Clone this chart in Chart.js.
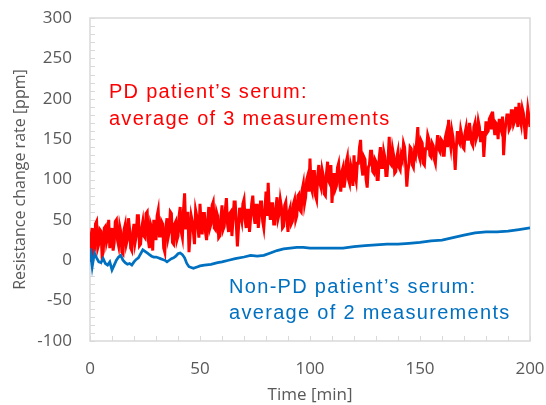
<!DOCTYPE html>
<html>
<head>
<title>Resistance change rate</title>
<script src="https://cdn.jsdelivr.net/npm/chart.js"></script>
<style>
  html, body { margin: 0; padding: 0; background: #fff; }
  #wrap { width: 546px; height: 405px; }
</style>
</head>
<body>
<div id="wrap"><canvas id="myChart" width="546" height="405"></canvas></div>
<script>
// PD patient's serum, one reading every half minute, 0..200 min
var redValues = [
  -2, 30, 40, 8, 12, 45, 48, 15, 20, 38, 36, 5, 10, 40, 42, 22, 28, 50, 15, 30,
  40, 12, 22, 48, 50, 25, 18, 42, 35, 10, 8, 38, 44, 20, 26, 52, 38, 15, 12, 35,
  45, 22, 30, 55, 55, 18, 20, 40, 48, 30, 28, 58, 60, 25, 15, 45, 40, 12, 50, 35,
  25, 55, 62, 30, 30, 48, 45, 15, 10, 42, 52, 28, 35, 60, 58, 22, 20, 45, 48, 25,
  30, 55, 66, 35, 28, 62, 83, 40, 40, 60, 10, 32, 55, 48, 35, 20, 62, 55, 42, 28,
  70, 45, 32, 58, 58, 35, 25, 50, 66, 40, 45, 68, 72, 40, 38, 60, 55, 28, 30, 52,
  68, 38, 42, 62, 77, 45, 35, 58, 60, 30, 50, 72, 72, 45, 17, 40, 65, 55, 48, 70,
  75, 50, 40, 62, 62, 35, 52, 70, 80, 55, 45, 68, 68, 40, 55, 72, 72, 48, 40, 60,
  85, 55, 96, 62, 50, 70, 70, 45, 45, 65, 78, 52, 58, 75, 66, 40, 42, 68, 72, 50,
  35, 60, 65, 45, 48, 70, 75, 50, 55, 80, 82, 62, 60, 88, 95, 70, 78, 100, 105, 85,
  126, 90, 85, 110, 110, 80, 75, 105, 118, 95, 90, 112, 105, 82, 80, 108, 122, 98, 95, 118,
  71, 95, 108, 88, 92, 115, 120, 95, 85, 110, 115, 90, 100, 122, 128, 100, 95, 118, 112, 92,
  130, 105, 98, 120, 120, 140, 149, 115, 105, 128, 125, 100, 90, 115, 118, 135, 135, 110, 108, 125,
  122, 100, 100, 128, 140, 115, 115, 135, 128, 105, 105, 125, 153, 120, 118, 138, 130, 108, 110, 128,
  135, 115, 112, 130, 125, 145, 140, 118, 91, 110, 120, 140, 138, 118, 115, 135, 130, 148, 165, 130,
  125, 148, 145, 120, 118, 138, 138, 155, 150, 130, 128, 145, 142, 125, 120, 140, 155, 138, 135, 150,
  148, 130, 130, 152, 158, 140, 174, 150, 140, 160, 152, 135, 112, 140, 160, 148, 145, 162, 155, 140,
  138, 158, 165, 150, 150, 170, 158, 145, 142, 165, 170, 150, 155, 172, 165, 148, 148, 160, 128, 150,
  172, 158, 160, 175, 178, 162, 184, 168, 155, 170, 168, 150, 175, 165, 160, 178, 130, 155, 170, 180,
  180, 162, 165, 185, 185, 168, 172, 190, 178, 165, 195, 175, 168, 188, 182, 165, 150, 172, 188, 178,
  165
];
var redTimes = redValues.map(function (v, i) { return i * 0.5; });

// Non-PD patient's serum
var blueTimes = [0, 1, 2, 3, 4, 5, 6, 7, 8, 9, 10, 11, 12, 13, 14, 15, 16, 17, 18, 19,
  20, 21, 22, 23, 24, 25, 26, 27, 28, 29, 30, 31, 32, 33, 34, 35, 36, 37, 38, 39,
  40, 41, 42, 43, 44, 45, 46, 47, 48, 49, 50, 52, 55, 58, 60, 63, 66, 70, 73, 76,
  79, 82, 85, 88, 91, 94, 97, 100, 105, 110, 115, 120, 125, 130, 135, 140, 145, 150,
  155, 160, 165, 170, 175, 180, 185, 190, 195, 200];
var blueValues = [15, -8, 9, 3, -2, -3, 2, -4, -6, -2, -12, -6, 0, 4, 6, 0, -3, -5, -4, -6,
  -2, 1, 3, 8, 13, 11, 9, 7, 5, 4, 4, 3, 2, 1, 0, -2, 0, 2, 3, 5,
  8, 9, 7, 3, -4, -8, -9, -10, -9, -8, -7, -6, -5, -3, -2, 0, 2, 4, 6, 5,
  6, 9, 12, 14, 15, 16, 16, 15, 15, 15, 15, 17, 18, 19, 20, 20, 21, 22,
  24, 25, 28, 31, 34, 35, 35, 36, 38, 40];

var xTicks = [0, 50, 100, 150, 200];
var yTicks = [-100, -50, 0, 50, 100, 150, 200, 250, 300];

var labelColor = '#595959';
var frameColor = '#d9d9d9';

function pts(xs, ys) {
  return xs.map(function (x, i) { return { x: x, y: ys[i] }; });
}

// box, inside minor ticks and the two text notes
var decor = {
  id: 'decor',
  beforeDatasetsDraw: function (chart) {
    var ctx = chart.ctx, a = chart.chartArea;
    var xs = chart.scales.x, ys = chart.scales.y;
    ctx.save();
    ctx.strokeStyle = frameColor;
    ctx.lineWidth = 1;
    ctx.beginPath();
    for (var v = -100; v <= 300; v += 10) {
      var py = Math.round(ys.getPixelForValue(v)) + 0.5;
      ctx.moveTo(a.left, py); ctx.lineTo(a.left + 5, py);
    }
    for (var t = 0; t <= 200; t += 10) {
      var px = Math.round(xs.getPixelForValue(t)) + 0.5;
      ctx.moveTo(px, a.bottom); ctx.lineTo(px, a.bottom - 5);
    }
    ctx.stroke();
    ctx.lineWidth = 1.5;
    ctx.strokeRect(a.left, a.top, a.right - a.left, a.bottom - a.top);
    ctx.restore();
  },
  afterDraw: function (chart) {
    var ctx = chart.ctx;
    var xs = chart.scales.x, ys = chart.scales.y;
    ctx.save();
    ctx.font = '20px "Liberation Sans", Arial, sans-serif';
    ctx.letterSpacing = '1.3px';
    ctx.textAlign = 'left';
    ctx.textBaseline = 'alphabetic';
    ctx.fillStyle = '#ff0000';
    var rx = xs.getPixelForValue(8.6);
    ctx.fillText('PD patient\u2019s serum:', rx, ys.getPixelForValue(201));
    ctx.fillText('average of 3 measurements', rx, ys.getPixelForValue(168));
    ctx.fillStyle = '#0070c0';
    var bx = xs.getPixelForValue(63.2);
    ctx.fillText('Non-PD patient\u2019s serum:', bx, ys.getPixelForValue(-40));
    ctx.fillText('average of 2 measurements', bx, ys.getPixelForValue(-73));
    ctx.restore();
  }
};

var ctx = document.getElementById('myChart').getContext('2d');
var myChart = new Chart(ctx, {
  type: 'line',
  data: {
    datasets: [{
      label: 'Non-PD',
      data: pts(blueTimes, blueValues),
      borderColor: '#0070c0',
      borderWidth: 2.75,
      pointRadius: 0,
      tension: 0,
      fill: false,
      order: 0
    }, {
      label: 'PD',
      data: pts(redTimes, redValues),
      borderColor: '#ff0000',
      borderWidth: 3,
      pointRadius: 0,
      tension: 0,
      fill: false,
      order: 1
    }]
  },
  options: {
    responsive: false,
    animation: false,
    events: [],
    layout: { padding: { left: 0, right: 16, top: 18, bottom: 0 } },
    plugins: { legend: { display: false }, tooltip: { enabled: false } },
    scales: {
      x: {
        type: 'linear',
        min: 0,
        max: 200,
        afterBuildTicks: function (s) { s.ticks = xTicks.map(function (v) { return { value: v }; }); },
        afterFit: function (s) { s.height = 64; s.paddingLeft = 0; s.paddingRight = 0; },
        grid: { display: false, drawTicks: false },
        border: { display: false },
        ticks: { color: labelColor, padding: 18, maxRotation: 0, font: { family: '"Open Sans"', size: 17 } },
        title: { display: true, text: 'Time [min]', color: labelColor, padding: { top: 0, bottom: 0 },
          font: { family: '"Open Sans"', size: 17 } }
      },
      y: {
        type: 'linear',
        min: -100,
        max: 300,
        afterBuildTicks: function (s) { s.ticks = yTicks.map(function (v) { return { value: v }; }); },
        afterFit: function (s) { s.width = 90; s.paddingTop = 0; s.paddingBottom = 0; },
        grid: { display: false, drawTicks: false },
        border: { display: false },
        ticks: { color: labelColor, padding: 18, font: { family: '"Open Sans"', size: 17 } },
        title: { display: true, text: 'Resistance change rate [ppm]', color: labelColor,
          padding: { top: 11, bottom: 0 }, font: { family: '"Open Sans"', size: 16 } }
      }
    }
  },
  plugins: [decor]
});
</script>
</body>
</html>
